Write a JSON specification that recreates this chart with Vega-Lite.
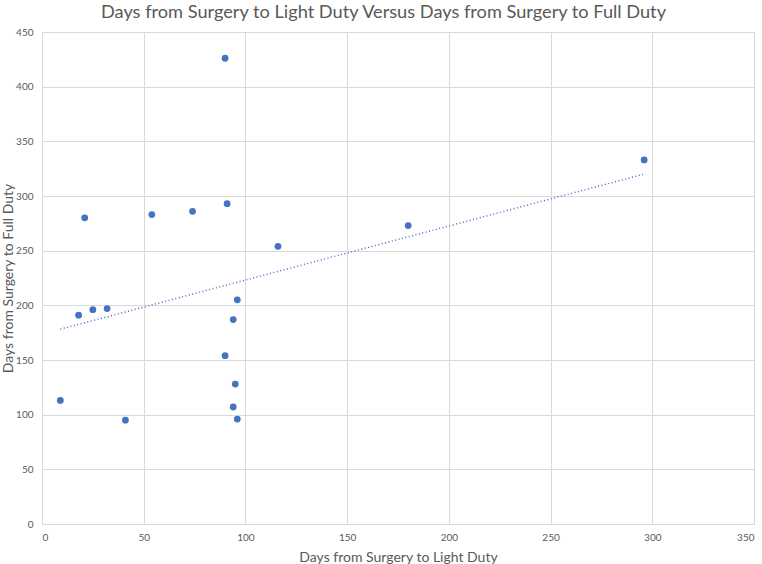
{
  "$schema": "https://vega.github.io/schema/vega-lite/v6.json",
  "width": 712,
  "height": 492,
  "autosize": {"type": "none"},
  "padding": {"left": 42, "top": 32, "right": 8, "bottom": 40},
  "background": "white",
  "title": {
    "text": "Days from Surgery to Light Duty Versus Days from Surgery to Full Duty",
    "font": "Lato",
    "fontSize": 18.2,
    "fontWeight": "normal",
    "color": "#595959",
    "anchor": "middle",
    "frame": "bounds",
    "offset": 5,
    "dx": 6
  },
  "config": {
    "view": {"stroke": null},
    "axis": {
      "labelFont": "Lato",
      "titleFont": "Lato",
      "labelFontSize": 10,
      "titleFontSize": 14,
      "titleFontWeight": "normal",
      "labelColor": "#595959",
      "titleColor": "#595959",
      "gridColor": "#d9d9d9",
      "domainColor": "#d9d9d9",
      "ticks": false
    }
  },
  "data": {
    "values": [
      {"light": 90, "full": 426},
      {"light": 21, "full": 280},
      {"light": 54, "full": 283},
      {"light": 74, "full": 286},
      {"light": 91, "full": 293},
      {"light": 116, "full": 254},
      {"light": 18, "full": 191},
      {"light": 25, "full": 196},
      {"light": 32, "full": 197},
      {"light": 96, "full": 205},
      {"light": 94, "full": 187},
      {"light": 90, "full": 154},
      {"light": 95, "full": 128},
      {"light": 9, "full": 113},
      {"light": 94, "full": 107},
      {"light": 41, "full": 95},
      {"light": 96, "full": 96},
      {"light": 180, "full": 273},
      {"light": 296, "full": 333}
    ]
  },
  "encoding": {
    "x": {
      "field": "light",
      "type": "quantitative",
      "title": "Days from Surgery to Light Duty",
      "scale": {"domain": [0, 350], "nice": false},
      "axis": {"values": [0, 50, 100, 150, 200, 250, 300, 350], "labelPadding": 8, "titlePadding": 8}
    },
    "y": {
      "field": "full",
      "type": "quantitative",
      "title": "Days from Surgery to Full Duty",
      "scale": {"domain": [0, 450], "nice": false},
      "axis": {
        "values": [0, 50, 100, 150, 200, 250, 300, 350, 400, 450],
        "labelPadding": 9,
        "titleX": -34,
        "titleY": 246,
        "titleBaseline": "middle",
        "titleAlign": "center"
      }
    }
  },
  "layer": [
    {
      "mark": {"type": "circle", "size": 46, "color": "#4472C4", "opacity": 1}
    },
    {
      "transform": [{"regression": "full", "on": "light"}],
      "mark": {"type": "line", "color": "#4472C4", "strokeWidth": 1.5, "strokeDash": [1, 2.5]}
    }
  ]
}
